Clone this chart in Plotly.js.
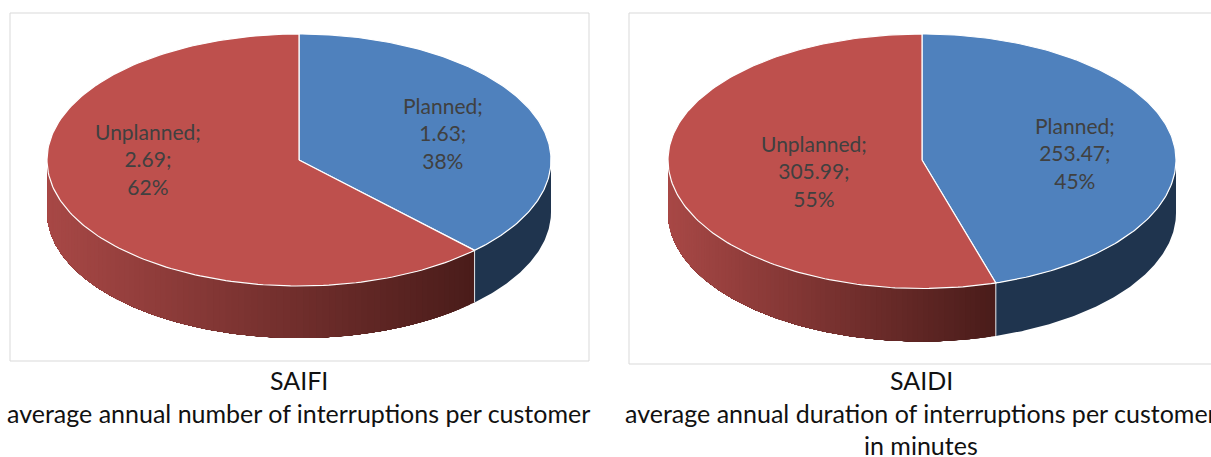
<!DOCTYPE html>
<html><head><meta charset="utf-8">
<script src="https://cdn.plot.ly/plotly-3.0.1.min.js"></script>
<style>html,body{margin:0;padding:0;background:#fff;overflow:hidden}</style>
</head><body><div id="chart" style="width:1211px;height:457px"></div>
<script>
const categories = ['Planned', 'Unplanned'];
const saifiValues = [1.63, 2.69];
const saidiValues = [253.47, 305.99];
const saifiPercents = [38, 62];
const saidiPercents = [45, 55];
const saifiValueText = ['1.63', '2.69'];
const saidiValueText = ['253.47', '305.99'];
const captions = [
  ['SAIFI', 'average annual number of interruptions per customer'],
  ['SAIDI', 'average annual duration of interruptions per customer', 'in minutes']
];

const topColors = ['#4f81bd', '#be504d'];
const blueWall = 'rgb(31,52,78)';
const redLeft = [168,72,70], redRight = [74,28,26];

const traces = [];
function lerp(a,b,t){return a.map((v,i)=>Math.round(v+(b[i]-v)*t));}
function pt(c,a){
  const cos=Math.cos(a);
  return [c.cx+c.rx*Math.sin(a), c.cy-(cos>=0?c.ry:c.ryLow)*cos];
}
function wall(c,a0,a1,col){
  const xs=[],ys=[],xb=[],yb=[],n=Math.max(2,Math.ceil((a1-a0)/0.01));
  for(let i=0;i<=n;i++){const p=pt(c,a0+(a1-a0)*i/n);xs.push(p[0]);ys.push(p[1]);xb.unshift(p[0]);yb.unshift(p[1]+c.depth);}
  traces.push({type:'scatter',mode:'lines',x:xs.concat(xb,[xs[0]]),y:ys.concat(yb,[ys[0]]),
    fill:'toself',fillcolor:col,line:{width:0},hoverinfo:'skip',showlegend:false});
}
function drawPie(c, values){
  const total = values.reduce((s,v)=>s+v,0);
  const split = values[0]/total*2*Math.PI;
  const end = 3*Math.PI/2;
  wall(c,Math.PI/2,split,blueWall);
  const sx = pt(c,split)[0], lx = c.cx-c.rx, N=90;
  for(let i=0;i<N;i++){
    const a0 = split+(end-split)*i/N;
    const t = (sx-pt(c,a0)[0])/(sx-lx);
    wall(c,a0,end,'rgb('+lerp(redRight,redLeft,t).join(',')+')');
  }
  const sy=pt(c,split)[1];
  traces.push({type:'scatter',mode:'lines',x:[sx,sx],y:[sy,sy+c.depth],line:{color:'#dfe3e8',width:1},hoverinfo:'skip',showlegend:false});
  let start=0;
  values.forEach((v,k)=>{
    const sweep=v/total*2*Math.PI, xs=[c.cx], ys=[c.cy];
    for(let i=0;i<=180;i++){const p=pt(c,start+sweep*i/180);xs.push(p[0]);ys.push(p[1]);}
    xs.push(c.cx);ys.push(c.cy);
    traces.push({type:'scatter',mode:'lines',x:xs,y:ys,fill:'toself',fillcolor:topColors[k],
      line:{color:'#ffffff',width:1.2},name:categories[k],hoverinfo:'skip',showlegend:false});
    start+=sweep;
  });
}
const pies=[
  {cx:299,cy:160,rx:252,ry:126,ryLow:126,depth:52,box:[10,13,589,361],labels:[[443,133],[148,158.5]]},
  {cx:922,cy:160,rx:254,ry:126,ryLow:128.5,depth:53,box:[629,13,1212,364],labels:[[1075,153],[814,171]]}
];
drawPie(pies[0],saifiValues);
drawPie(pies[1],saidiValues);

const anns=[], shapes=[];
function label(x,y,lines){
  anns.push({x,y,xref:'x',yref:'y',text:lines.join('<br>'),showarrow:false,xanchor:'center',yanchor:'middle',align:'center',
    font:{family:'Lato,"Open Sans",sans-serif',size:21,color:'#404040'}});
}
[[saifiValueText,saifiPercents],[saidiValueText,saidiPercents]].forEach((d,p)=>{
  categories.forEach((cat,k)=>{
    label(pies[p].labels[k][0],pies[p].labels[k][1],[cat+';',d[0][k]+';',d[1][k]+'%']);
  });
  const b=pies[p].box;
  shapes.push({type:'rect',x0:b[0],y0:b[1],x1:b[2],y1:b[3],line:{color:'#d9d9d9',width:1},layer:'below'});
});
const capCentre=[298.5,921];
captions.forEach((lines,p)=>lines.forEach((t,i)=>{
  anns.push({x:capCentre[p],y:380+32.5*i,xref:'x',yref:'y',text:t,showarrow:false,xanchor:'center',yanchor:'middle',captureevents:false,
    font:{family:'Lato,"Open Sans",sans-serif',size:25,color:'#111111'}});
}));

Plotly.newPlot('chart',traces,{
  width:1211,height:457,margin:{l:0,r:0,t:0,b:0},paper_bgcolor:'#fff',plot_bgcolor:'#fff',showlegend:false,
  xaxis:{range:[0,1211],visible:false,fixedrange:true},
  yaxis:{range:[457,0],visible:false,fixedrange:true},
  annotations:anns,shapes:shapes
},{displayModeBar:false,staticPlot:true});
</script></body></html>
